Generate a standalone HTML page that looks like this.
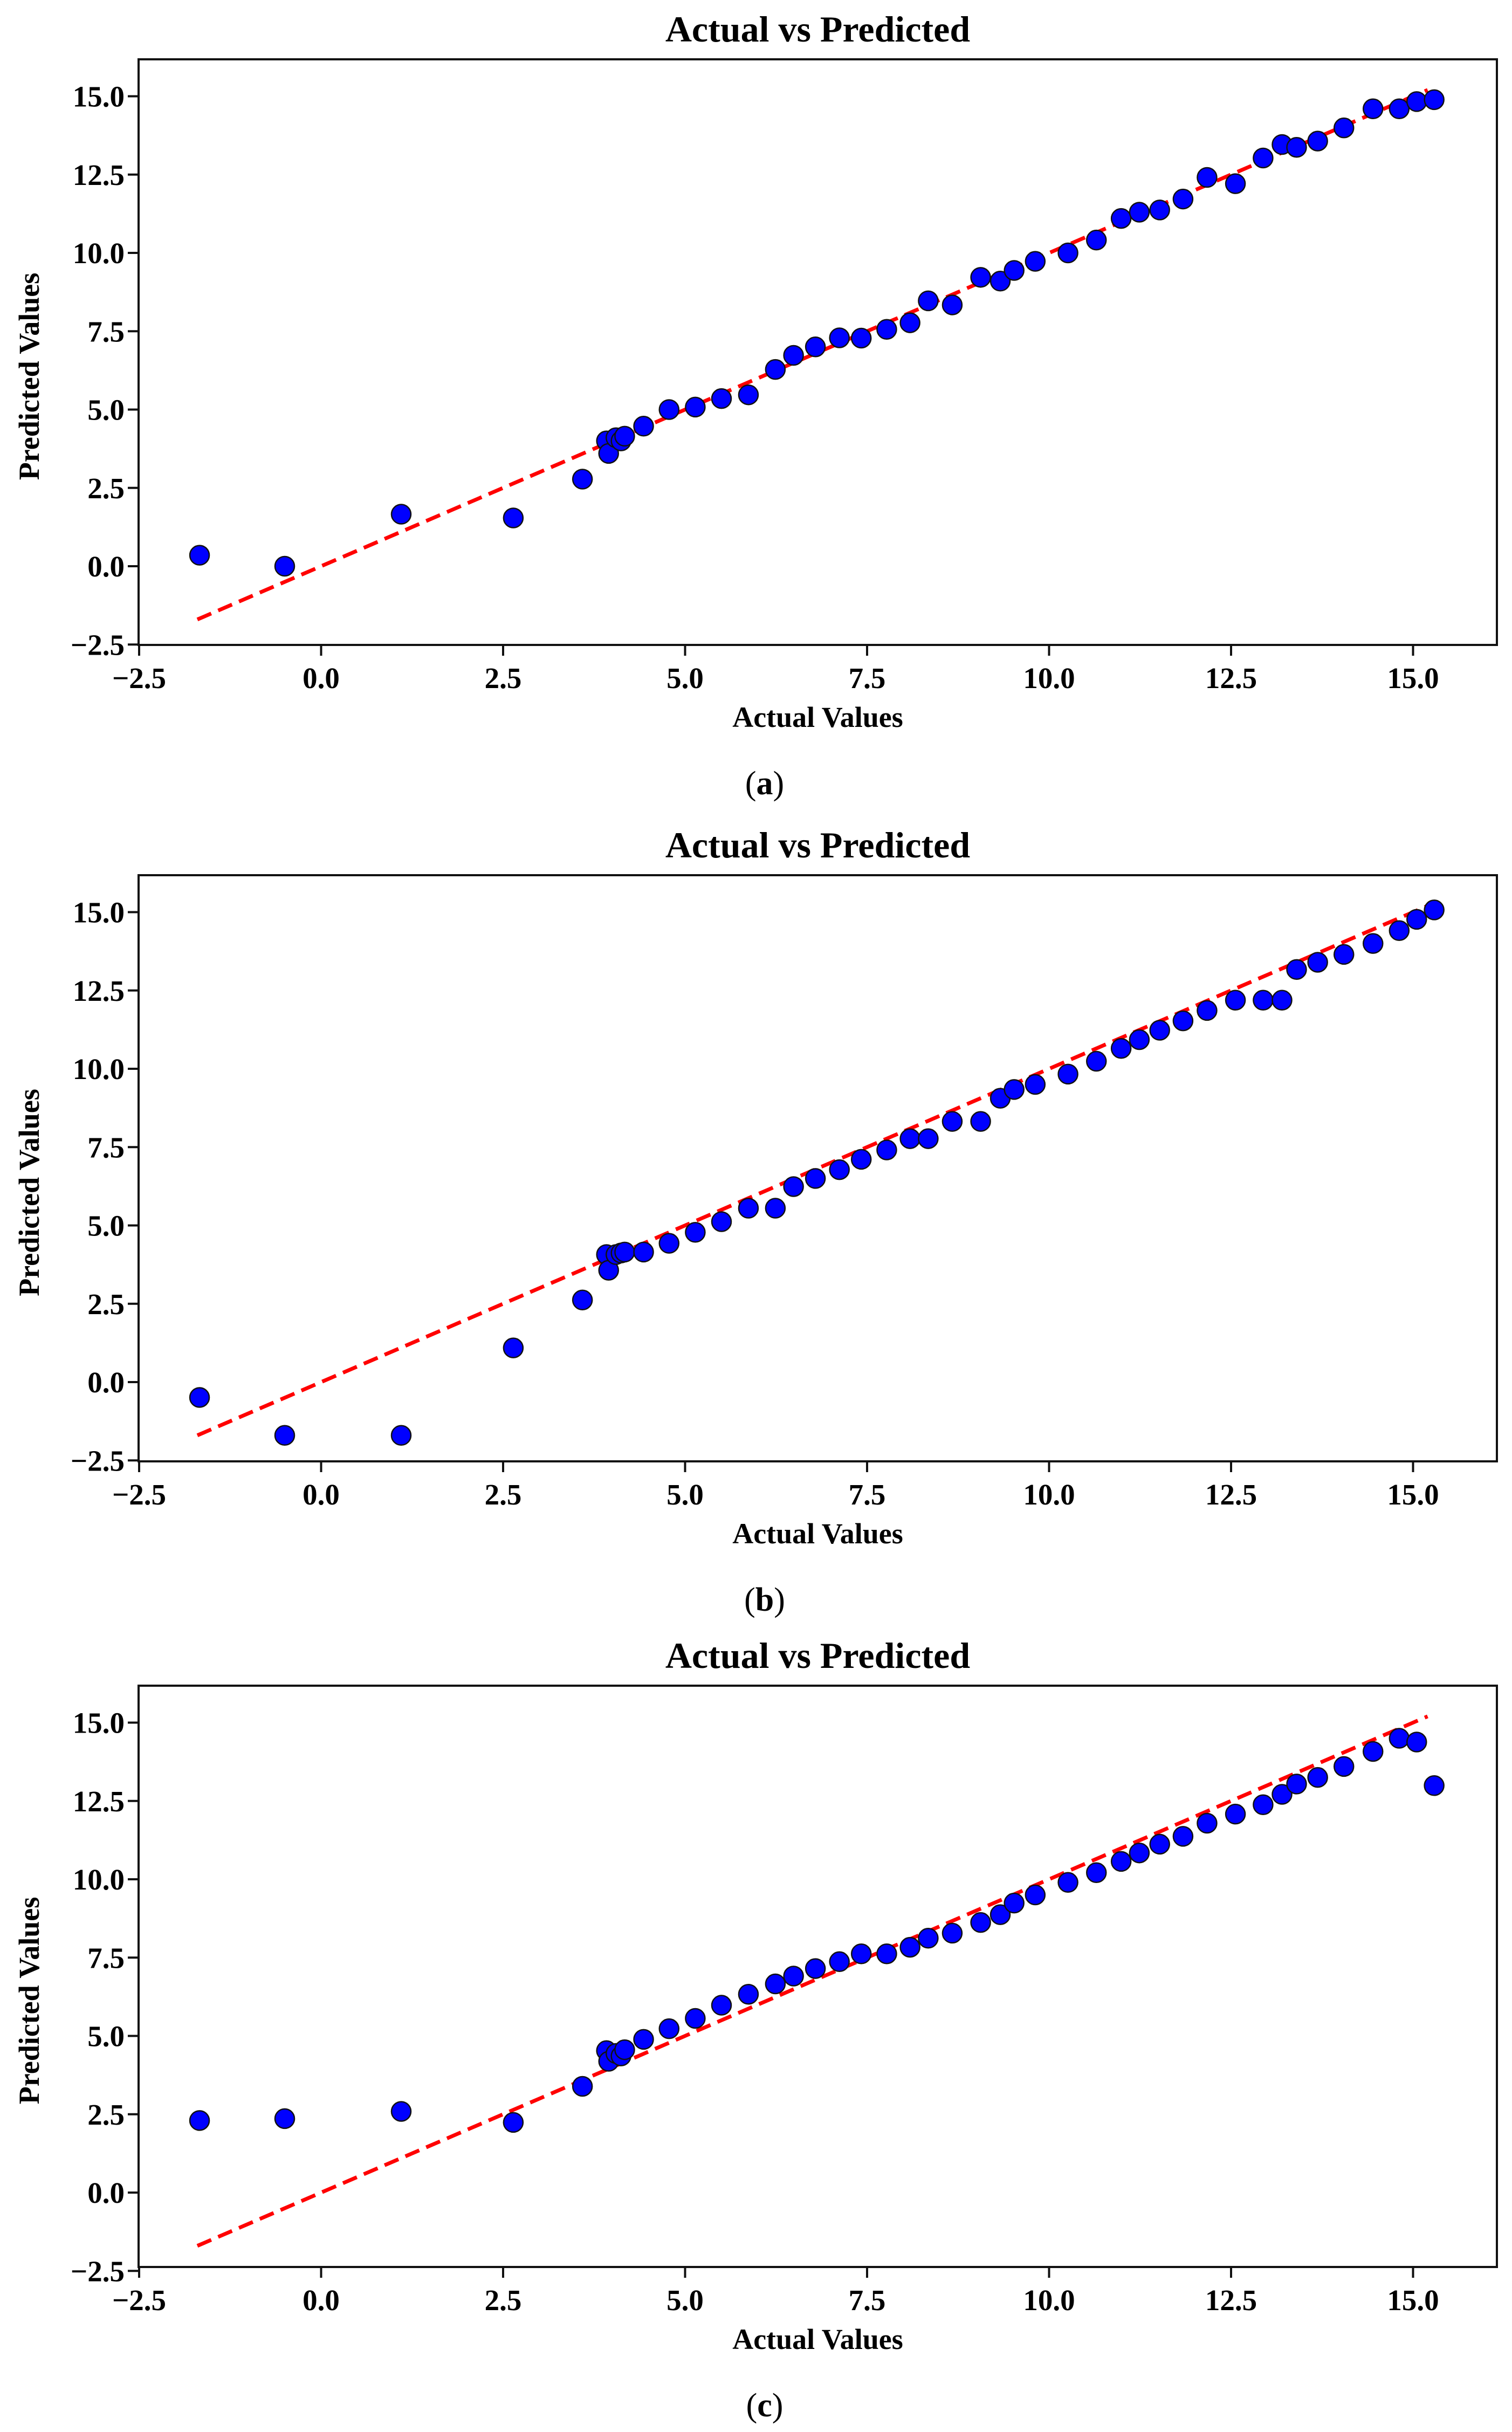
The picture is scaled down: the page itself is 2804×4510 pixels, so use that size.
<!DOCTYPE html>
<html><head><meta charset="utf-8"><title>Actual vs Predicted</title>
<style>html,body{margin:0;padding:0;background:#fff}svg{display:block}text{font-family:"Liberation Serif",serif;fill:#000}</style>
</head><body>
<svg id="fig" width="2804" height="4510" viewBox="0 0 2804 4510" xmlns="http://www.w3.org/2000/svg"></svg>
<script>
const actualValues = [-1.67,-0.50,1.10,2.64,3.59,3.92,3.95,4.05,4.12,4.17,4.43,4.78,5.14,5.50,5.87,6.24,6.49,6.79,7.12,7.42,7.77,8.09,8.34,8.67,9.06,9.33,9.52,9.81,10.26,10.65,10.99,11.24,11.52,11.84,12.17,12.56,12.94,13.20,13.40,13.69,14.05,14.45,14.81,15.05,15.29];
const predictedA = [0.35,0.0,1.66,1.54,2.78,4.0,3.6,4.1,4.0,4.15,4.47,5.0,5.08,5.35,5.47,6.28,6.73,7.0,7.29,7.28,7.56,7.77,8.47,8.34,9.22,9.10,9.44,9.73,10.0,10.41,11.1,11.3,11.37,11.72,12.41,12.21,13.03,13.46,13.37,13.57,13.99,14.6,14.6,14.83,14.89];
const predictedB = [-0.49,-1.70,-1.70,1.09,2.62,4.07,3.57,4.07,4.12,4.15,4.15,4.43,4.78,5.12,5.55,5.55,6.24,6.50,6.78,7.11,7.41,7.77,7.77,8.32,8.32,9.06,9.34,9.50,9.83,10.24,10.65,10.93,11.23,11.53,11.86,12.19,12.19,12.19,13.17,13.40,13.65,14.0,14.41,14.77,15.07];
const predictedC = [2.30,2.36,2.59,2.24,3.39,4.53,4.19,4.44,4.36,4.56,4.89,5.23,5.56,5.98,6.33,6.66,6.91,7.15,7.37,7.62,7.62,7.83,8.12,8.28,8.62,8.87,9.24,9.50,9.90,10.21,10.57,10.84,11.12,11.37,11.79,12.08,12.38,12.71,13.04,13.25,13.60,14.08,14.50,14.38,12.99];
const xTickLabels = ["\u22122.5","0.0","2.5","5.0","7.5","10.0","12.5","15.0"];
const xTickValues = [-2.5,0,2.5,5,7.5,10,12.5,15];
const yTickLabels = ["\u22122.5","0.0","2.5","5.0","7.5","10.0","12.5","15.0"];
const yTickValues = [-2.5,0,2.5,5,7.5,10,12.5,15];
const idealLine = [-1.7,15.2];
const panelLetters = ["a","b","c"];

const NS="http://www.w3.org/2000/svg";
const svg=document.getElementById('fig');
function mk(tag,attrs,parent){const e=document.createElementNS(NS,tag);for(const k in attrs)e.setAttribute(k,attrs[k]);(parent||svg).appendChild(e);return e;}

const L=257,R=2776;
function xS(v){return 595.5+135*v;}
function drawPanel(top,height,series,letter){
  const g=mk('g',{});
  
  
  const bottom=top+height;
  const yS=v=>top+940-(871.5/15)*v;
  const t=mk('text',{x:(L+R)/2,y:top-33,'text-anchor':'middle','font-size':68,'font-weight':'bold'},g);
  t.textContent='Actual vs Predicted';
  
  
  // ideal line
  const ln=mk('line',{x1:xS(idealLine[0]),y1:yS(idealLine[0]),x2:xS(idealLine[1]),y2:yS(idealLine[1]),stroke:'#ff0000','stroke-width':7,'stroke-dasharray':'28,14'},g);
  
  
  // points
  for(let i=0;i<actualValues.length;i++){
    const c=mk('circle',{cx:xS(actualValues[i]),cy:yS(series[i]),r:18,fill:'#0000ff',stroke:'#111','stroke-width':2.5},g);
    
    
  }
  const fr=mk('rect',{x:L,y:top,width:R-L,height:height,fill:'none',stroke:'#111','stroke-width':4},g);
  
  
  xTickValues.forEach((v,i)=>{
    const x=xS(v);
    mk('line',{x1:x,y1:bottom,x2:x,y2:bottom+20,stroke:'#111','stroke-width':4},g);
    const tx=mk('text',{x:x,y:bottom+80,'text-anchor':'middle','font-size':55,'font-weight':'bold'},g);
    tx.textContent=xTickLabels[i];
    
    
  });
  yTickValues.forEach((v,i)=>{
    const y=yS(v);
    mk('line',{x1:L-20,y1:y,x2:L,y2:y,stroke:'#111','stroke-width':4},g);
    const ty=mk('text',{x:L-26,y:y+19,'text-anchor':'end','font-size':55,'font-weight':'bold'},g);
    ty.textContent=yTickLabels[i];
    
    
  });
  const xl=mk('text',{x:(L+R)/2,y:bottom+152,'text-anchor':'middle','font-size':54,'font-weight':'bold'},g);
  xl.textContent='Actual Values';
  
  
  const cy=top+(height)/2+45;
  const yl=mk('text',{x:0,y:0,'text-anchor':'middle','font-size':54,'font-weight':'bold',transform:'translate(72,'+cy+') rotate(-90)'},g);
  yl.textContent='Predicted Values';
  
  
  const cap=mk('text',{x:1418,y:bottom+277,'text-anchor':'middle','font-size':62},g);
  
  
  const p1=mk('tspan',{},cap);p1.textContent='(';
  const p2=mk('tspan',{'font-weight':'bold'},cap);p2.textContent=letter;
  const p3=mk('tspan',{},cap);p3.textContent=')';
}
drawPanel(110,1086,predictedA,panelLetters[0]);
drawPanel(1623,1087,predictedB,panelLetters[1]);
drawPanel(3126,1078,predictedC,panelLetters[2]);
</script>
</body></html>
